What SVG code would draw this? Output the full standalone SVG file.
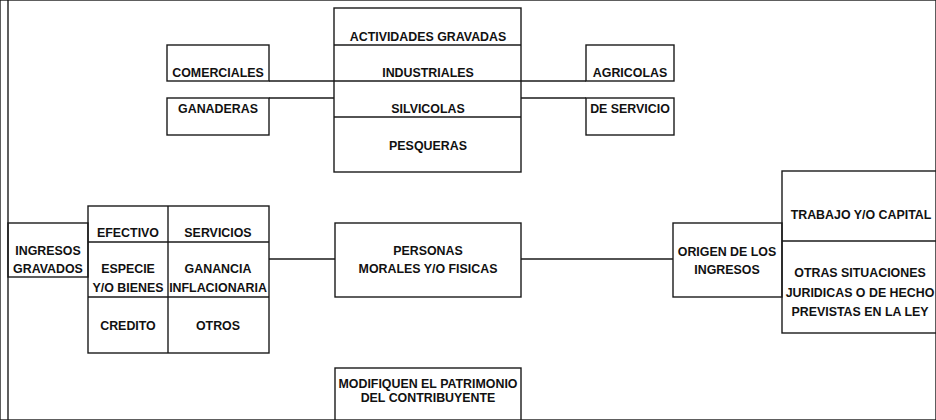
<svg xmlns="http://www.w3.org/2000/svg" width="936" height="420" viewBox="0 0 936 420">
<style>
  rect, line { fill: none; stroke: #1a1a1a; stroke-width: 1.4; }
  text { font-family: "Liberation Sans", Arial, sans-serif; font-weight: bold; font-size: 12.4px; fill: #111; text-anchor: middle; }
</style>
<rect x="0" y="0" width="936" height="420" fill="#fff" stroke="none"/>
<g id="connectors">
  <line x1="8" y1="0" x2="8" y2="420"/>
  <line x1="269" y1="81" x2="334" y2="81"/>
  <line x1="269" y1="98" x2="334" y2="98"/>
  <line x1="521" y1="81" x2="586" y2="81"/>
  <line x1="521" y1="98" x2="586" y2="98"/>
  <line x1="269" y1="259" x2="335" y2="259"/>
  <line x1="521" y1="259" x2="673" y2="259"/>
</g>
<g id="actividades">
  <rect x="334" y="8" width="187" height="164"/>
  <line x1="334" y1="45" x2="521" y2="45"/>
  <line x1="334" y1="81" x2="521" y2="81"/>
  <line x1="334" y1="117" x2="521" y2="117"/>
  <text x="428" y="41">ACTIVIDADES GRAVADAS</text>
  <text x="428" y="77">INDUSTRIALES</text>
  <text x="428" y="113">SILVICOLAS</text>
  <text x="428" y="150">PESQUERAS</text>
</g>
<g id="comerciales">
  <rect x="167" y="45" width="102" height="36"/>
  <text x="218" y="77">COMERCIALES</text>
</g>
<g id="ganaderas">
  <rect x="167" y="98" width="102" height="37"/>
  <text x="218" y="113">GANADERAS</text>
</g>
<g id="agricolas">
  <rect x="586" y="45" width="88" height="36"/>
  <text x="630" y="77">AGRICOLAS</text>
</g>
<g id="de-servicio">
  <rect x="586" y="98" width="88" height="37"/>
  <text x="630" y="113">DE SERVICIO</text>
</g>
<g id="ingresos-gravados">
  <rect x="8" y="223" width="80" height="54"/>
  <text x="48" y="255">INGRESOS</text>
  <text x="48" y="273">GRAVADOS</text>
</g>
<g id="tipos-ingreso">
  <rect x="88" y="206" width="181" height="147"/>
  <line x1="168" y1="206" x2="168" y2="353"/>
  <line x1="88" y1="242" x2="269" y2="242"/>
  <line x1="88" y1="297" x2="269" y2="297"/>
  <text x="128" y="237">EFECTIVO</text>
  <text x="218" y="237">SERVICIOS</text>
  <text x="128" y="273">ESPECIE</text>
  <text x="128" y="292">Y/O BIENES</text>
  <text x="218" y="273">GANANCIA</text>
  <text x="218" y="292">INFLACIONARIA</text>
  <text x="128" y="330">CREDITO</text>
  <text x="218" y="330">OTROS</text>
</g>
<g id="personas">
  <rect x="335" y="223" width="186" height="74"/>
  <text x="428" y="255">PERSONAS</text>
  <text x="428" y="273">MORALES Y/O  FISICAS</text>
</g>
<g id="origen">
  <rect x="673" y="223" width="109" height="74"/>
  <text x="727" y="256">ORIGEN DE LOS</text>
  <text x="727" y="274">INGRESOS</text>
</g>
<g id="origen-detalle">
  <rect x="782" y="171" width="158" height="162"/>
  <line x1="782" y1="241" x2="940" y2="241"/>
  <text x="861" y="219">TRABAJO Y/O CAPITAL</text>
  <text x="860" y="277">OTRAS SITUACIONES</text>
  <text x="860" y="297">JURIDICAS O DE HECHO</text>
  <text x="860" y="316">PREVISTAS EN LA LEY</text>
</g>
<g id="modifiquen">
  <rect x="335" y="368" width="186" height="60"/>
  <text x="428" y="388">MODIFIQUEN EL PATRIMONIO</text>
  <text x="428" y="402">DEL CONTRIBUYENTE</text>
</g>
</svg>
